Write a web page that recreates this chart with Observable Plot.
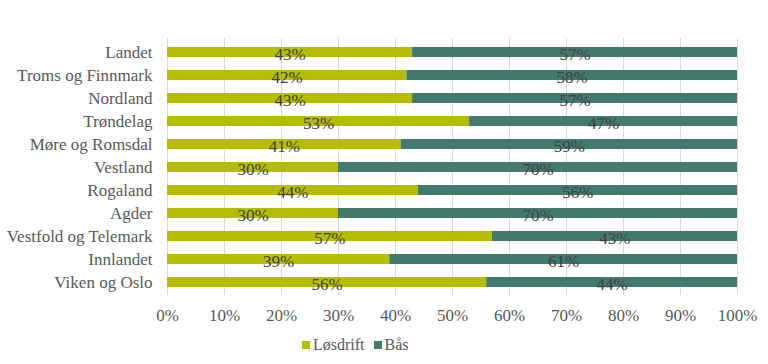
<!DOCTYPE html>
<html>
<head>
<meta charset="utf-8">
<script src="https://cdn.jsdelivr.net/npm/d3@7"></script>
<script src="https://cdn.jsdelivr.net/npm/@observablehq/plot@0.6"></script>
<style>
  html, body { margin: 0; padding: 0; background: #fff; }
  #chart { width: 768px; }
  .legend { display: flex; justify-content: flex-start; gap: 9px; padding-left: 302px; padding-top: 6px; font-family: "Liberation Serif", serif; font-size: 16px; color: #595959; height: 28px; align-items: flex-start; }
  .legend span.item { display: inline-flex; align-items: center; gap: 3px; }
  .legend span.sw { width: 8px; height: 8px; display: inline-block; }
</style>
</head>
<body>
<div id="chart"></div>
<script>
const regions = ["Landet","Troms og Finnmark","Nordland","Trøndelag","Møre og Romsdal","Vestland","Rogaland","Agder","Vestfold og Telemark","Innlandet","Viken og Oslo"];
const losdrift = [43,42,43,53,41,30,44,30,57,39,56];
const bas = [57,58,57,47,59,70,56,70,43,61,44];
const seriesNames = ["Løsdrift","Bås"];
const seriesColors = ["#b5bd00","#44796e"];
const xTicks = [0,10,20,30,40,50,60,70,80,90,100];

const data = [];
regions.forEach((r, i) => {
  data.push({region: r, series: seriesNames[0], value: losdrift[i]});
  data.push({region: r, series: seriesNames[1], value: bas[i]});
});

const font = '"Liberation Serif", serif';

const plot = Plot.plot({
  width: 768,
  height: 330,
  marginLeft: 167,
  marginRight: 31,
  marginTop: 38,
  marginBottom: 35,
  style: {fontFamily: font, fontSize: "17px", color: "#595959", background: "#fff"},
  x: {domain: [0, 100], ticks: xTicks, tickFormat: d => d + "%", tickSize: 0, tickPadding: 13, label: null, fontSize: 17},
  y: {domain: regions, paddingInner: 0.57, paddingOuter: 0.325, tickSize: 0, tickPadding: 15, label: null},
  color: {domain: seriesNames, range: seriesColors},
  marks: [
    Plot.ruleX(xTicks, {stroke: "#d9d9d9", strokeWidth: 1}),
    Plot.barX(data, Plot.stackX({x: "value", y: "region", fill: "series", order: seriesNames})),
    Plot.text(data, Plot.stackX({x: "value", y: "region", z: "series", order: seriesNames, text: d => d.value + "%", fill: "#404040", dy: 2, fontSize: 17, fontFamily: font}))
  ]
});
document.getElementById("chart").appendChild(plot);

const legend = document.createElement("div");
legend.className = "legend";
seriesNames.forEach((s, i) => {
  const item = document.createElement("span");
  item.className = "item";
  const sw = document.createElement("span");
  sw.className = "sw";
  sw.style.background = seriesColors[i];
  item.appendChild(sw);
  item.appendChild(document.createTextNode(s));
  legend.appendChild(item);
});
document.getElementById("chart").appendChild(legend);
</script>
</body>
</html>
